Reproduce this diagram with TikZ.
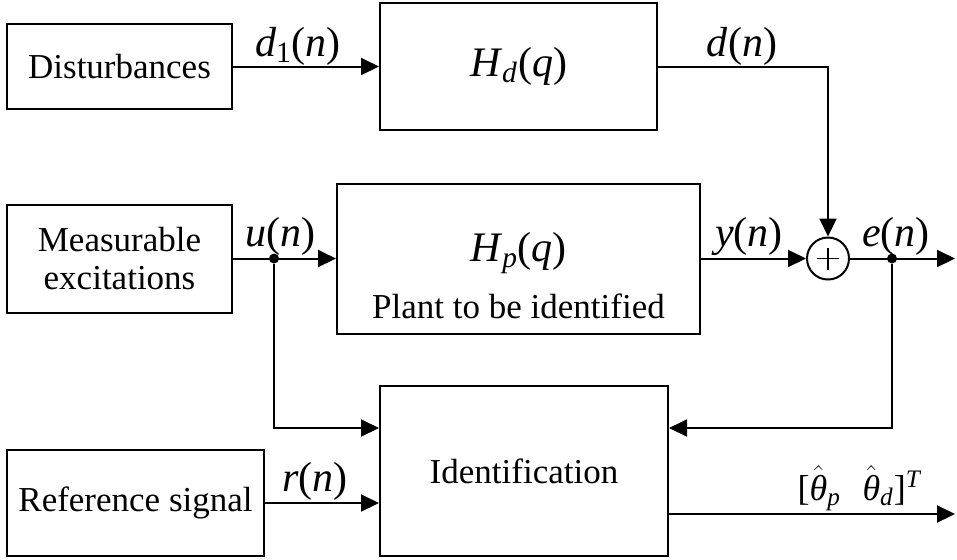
\documentclass[tikz,border=0pt]{standalone}
\usepackage{amsmath}
\usepackage{fontspec}
\setmainfont{Liberation Serif}
\usetikzlibrary{arrows.meta,calc}

\newcommand\esttheta{\ensuremath{\hat{\text{\itshape θ}}}}

\tikzset{
  block/.style={draw, line width=1pt, inner sep=0pt},
  link/.style={line width=1pt, -{Triangle[length=9pt,width=8.5pt]}},
  dot/.style={circle, fill, inner sep=0pt, minimum size=5pt},
  sumnode/.style={draw, circle, line width=1pt, minimum size=21pt, inner sep=0pt,
    path picture={\draw[line width=0.8pt] (path picture bounding box.center)
      +(-5.5pt,0) -- +(5.5pt,0) +(0,-5.5pt) -- +(0,5.5pt);}},
  txt/.style={font=\fontsize{17.5}{19}\selectfont},
  sig/.style={font=\fontsize{21}{25}\selectfont},
}

\begin{document}
\begin{tikzpicture}[x=0.5pt, y=-0.5pt]
  \useasboundingbox (0,0) rectangle (957,559);
  % blocks
  \node[block, txt, minimum width=112.5pt, minimum height=42.5pt] (dist) at (119.5,66.5) {Disturbances};
  \node[block, sig, minimum width=138.5pt, minimum height=63.5pt] (Hd) at (518.5,66.5) {\textit{H}\textsubscript{\textit{d}}(\textit{q})};
  \node[block, txt, align=center, minimum width=112.5pt, minimum height=54pt] (meas) at (119.5,258.5) {Measurable\\excitations};
  \node[block, minimum width=181.5pt, minimum height=75pt] (Hp) at (518.5,258.5) {};
  \node[sig] (Hptxt) at (518.5,253) {\textit{H}\textsubscript{\textit{p}}(\textit{q})};
  \node[txt] (plant) at (518.5,306) {Plant to be identified};
  \node[sumnode] (sum) at (828,258.5) {};
  \node[block, txt, minimum width=128.5pt, minimum height=53pt] (ref) at (135.5,503) {Reference signal};
  \node[block, txt, minimum width=144pt, minimum height=85pt] (ident) at (524,471) {Identification};
  \node[dot] (udot) at (274,258.5) {};
  \node[dot] (edot) at (892,258.5) {};
  \coordinate (eout) at (955,258.5);
  \coordinate (thout) at (955,514);
  % connectors
  \draw[link] (dist) -- (Hd);
  \draw[link] (Hd) -| (sum);
  \draw[link] (meas) -- (Hp);
  \draw[link] (Hp) -- (sum);
  \draw[link] (sum) -- (eout);
  \draw[link] (udot) |- ($(ident.north west)!0.25!(ident.south west)$);
  \draw[link] (edot) |- ($(ident.north east)!0.25!(ident.south east)$);
  \draw[link] (ref) -- (ref -| ident.west);
  \draw[link] (thout -| ident.east) -- (thout);
  % signals
  \node[sig] (d1lbl) at (298,46) {\textit{d}\textsubscript{1}(\textit{n})};
  \node[sig] (dlbl) at (742,46) {\textit{d}(\textit{n})};
  \node[sig] (ulbl) at (280,236) {\textit{u}(\textit{n})};
  \node[sig] (ylbl) at (749,236) {\textit{y}(\textit{n})};
  \node[sig] (elbl) at (896,236) {\textit{e}(\textit{n})};
  \node[sig] (rlbl) at (315,481) {\textit{r}(\textit{n})};
  \node[font=\fontsize{18}{20}\selectfont, anchor=base] (thlbl) at (860,500)
    {[\esttheta\textsubscript{\textit{p}}\hspace{0.6em}\esttheta\textsubscript{\textit{d}}]\textsuperscript{\textit{T}}};
\end{tikzpicture}
\end{document}
